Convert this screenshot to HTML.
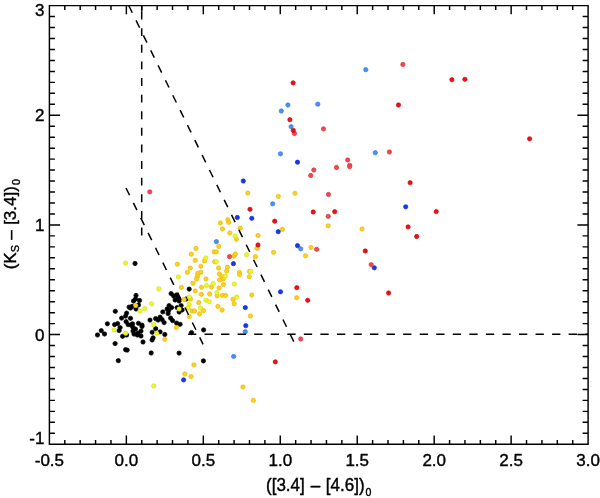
<!DOCTYPE html>
<html lang="en"><head><meta charset="utf-8"><title>Colour-colour diagram</title>
<style>html,body{margin:0;padding:0;background:#fff}body{width:600px;height:498px;overflow:hidden}svg{display:block}</style>
</head><body>
<svg width="600" height="498" viewBox="0 0 600 498">
<rect width="600" height="498" fill="#fff"/>
<g fill="#000" stroke="#000" stroke-width="0.7"><circle cx="135.0" cy="263.5" r="2.15"/><circle cx="189.2" cy="289.1" r="2.15"/><circle cx="171.1" cy="293.6" r="2.15"/><circle cx="173.6" cy="296.0" r="2.15"/><circle cx="176.6" cy="295.0" r="2.15"/><circle cx="178.1" cy="298.0" r="2.15"/><circle cx="175.1" cy="300.0" r="2.15"/><circle cx="179.1" cy="301.0" r="2.15"/><circle cx="186.2" cy="299.0" r="2.15"/><circle cx="136.0" cy="295.5" r="2.15"/><circle cx="135.5" cy="299.0" r="2.15"/><circle cx="139.5" cy="300.5" r="2.15"/><circle cx="133.5" cy="301.0" r="2.15"/><circle cx="132.0" cy="306.5" r="2.15"/><circle cx="138.5" cy="305.0" r="2.15"/><circle cx="136.0" cy="309.0" r="2.15"/><circle cx="130.5" cy="308.0" r="2.15"/><circle cx="129.1" cy="307.1" r="2.15"/><circle cx="169.1" cy="305.6" r="2.15"/><circle cx="171.6" cy="307.6" r="2.15"/><circle cx="167.1" cy="309.0" r="2.15"/><circle cx="168.6" cy="310.6" r="2.15"/><circle cx="168.1" cy="313.6" r="2.15"/><circle cx="162.8" cy="311.9" r="2.15"/><circle cx="177.1" cy="307.6" r="2.15"/><circle cx="181.1" cy="305.6" r="2.15"/><circle cx="182.1" cy="310.0" r="2.15"/><circle cx="179.1" cy="312.0" r="2.15"/><circle cx="150.0" cy="320.1" r="2.15"/><circle cx="155.6" cy="318.6" r="2.15"/><circle cx="160.1" cy="317.1" r="2.15"/><circle cx="158.1" cy="320.1" r="2.15"/><circle cx="162.1" cy="319.6" r="2.15"/><circle cx="164.1" cy="322.6" r="2.15"/><circle cx="170.6" cy="318.1" r="2.15"/><circle cx="172.6" cy="320.6" r="2.15"/><circle cx="176.6" cy="323.1" r="2.15"/><circle cx="180.1" cy="324.3" r="2.15"/><circle cx="155.7" cy="328.7" r="2.15"/><circle cx="152.2" cy="332.3" r="2.15"/><circle cx="160.1" cy="331.9" r="2.15"/><circle cx="164.8" cy="334.5" r="2.15"/><circle cx="130.5" cy="318.3" r="2.15"/><circle cx="132.5" cy="323.8" r="2.15"/><circle cx="131.0" cy="325.1" r="2.15"/><circle cx="138.5" cy="323.3" r="2.15"/><circle cx="142.0" cy="325.1" r="2.15"/><circle cx="135.5" cy="329.1" r="2.15"/><circle cx="133.0" cy="331.1" r="2.15"/><circle cx="141.0" cy="331.1" r="2.15"/><circle cx="138.0" cy="333.1" r="2.15"/><circle cx="134.0" cy="334.1" r="2.15"/><circle cx="115.3" cy="311.3" r="2.15"/><circle cx="126.6" cy="313.1" r="2.15"/><circle cx="125.6" cy="316.1" r="2.15"/><circle cx="121.6" cy="318.1" r="2.15"/><circle cx="126.1" cy="321.6" r="2.15"/><circle cx="128.1" cy="324.6" r="2.15"/><circle cx="107.4" cy="323.8" r="2.15"/><circle cx="114.6" cy="324.6" r="2.15"/><circle cx="117.6" cy="323.6" r="2.15"/><circle cx="120.1" cy="327.6" r="2.15"/><circle cx="119.1" cy="330.6" r="2.15"/><circle cx="101.3" cy="330.7" r="2.15"/><circle cx="104.5" cy="334.0" r="2.15"/><circle cx="97.5" cy="335.0" r="2.15"/><circle cx="122.6" cy="336.3" r="2.15"/><circle cx="126.6" cy="335.0" r="2.15"/><circle cx="115.1" cy="343.6" r="2.15"/><circle cx="125.6" cy="349.7" r="2.15"/><circle cx="127.2" cy="350.1" r="2.15"/><circle cx="118.3" cy="360.7" r="2.15"/><circle cx="137.3" cy="335.0" r="2.15"/><circle cx="141.0" cy="336.0" r="2.15"/><circle cx="142.0" cy="326.5" r="2.15"/><circle cx="133.0" cy="327.5" r="2.15"/><circle cx="153.1" cy="337.8" r="2.15"/><circle cx="152.1" cy="340.0" r="2.15"/><circle cx="143.0" cy="342.0" r="2.15"/><circle cx="151.2" cy="353.0" r="2.15"/><circle cx="179.1" cy="353.1" r="2.15"/><circle cx="203.6" cy="329.9" r="2.15"/><circle cx="191.5" cy="332.6" r="2.15"/><circle cx="203.4" cy="360.9" r="2.15"/></g>
<g fill="#fdd31a" stroke="#e6b814" stroke-width="0.7"><circle cx="177.3" cy="264.2" r="2.15"/><circle cx="190.3" cy="268.0" r="2.15"/><circle cx="187.4" cy="272.3" r="2.15"/><circle cx="181.4" cy="287.4" r="2.15"/><circle cx="184.2" cy="299.5" r="2.15"/><circle cx="135.7" cy="305.6" r="2.15"/><circle cx="189.2" cy="316.5" r="2.15"/><circle cx="176.3" cy="327.6" r="2.15"/><circle cx="164.8" cy="339.3" r="2.15"/><circle cx="184.8" cy="374.0" r="2.15"/><circle cx="193.9" cy="364.8" r="2.15"/><circle cx="191.1" cy="376.6" r="2.15"/><circle cx="242.9" cy="387.0" r="2.15"/><circle cx="253.3" cy="400.4" r="2.15"/><circle cx="191.3" cy="254.2" r="2.15"/><circle cx="196.0" cy="248.5" r="2.15"/><circle cx="214.1" cy="251.8" r="2.15"/><circle cx="216.3" cy="251.8" r="2.15"/><circle cx="204.5" cy="261.0" r="2.15"/><circle cx="195.2" cy="260.3" r="2.15"/><circle cx="214.6" cy="261.8" r="2.15"/><circle cx="200.8" cy="266.3" r="2.15"/><circle cx="218.6" cy="268.0" r="2.15"/><circle cx="227.4" cy="267.2" r="2.15"/><circle cx="226.6" cy="271.0" r="2.15"/><circle cx="239.3" cy="272.3" r="2.15"/><circle cx="239.6" cy="274.8" r="2.15"/><circle cx="249.5" cy="271.5" r="2.15"/><circle cx="249.4" cy="276.8" r="2.15"/><circle cx="200.8" cy="272.3" r="2.15"/><circle cx="197.8" cy="273.3" r="2.15"/><circle cx="197.5" cy="276.3" r="2.15"/><circle cx="196.5" cy="279.0" r="2.15"/><circle cx="193.0" cy="283.3" r="2.15"/><circle cx="206.0" cy="279.0" r="2.15"/><circle cx="219.4" cy="274.0" r="2.15"/><circle cx="222.1" cy="276.6" r="2.15"/><circle cx="223.1" cy="279.0" r="2.15"/><circle cx="219.6" cy="280.0" r="2.15"/><circle cx="223.4" cy="284.6" r="2.15"/><circle cx="211.4" cy="287.0" r="2.15"/><circle cx="201.5" cy="287.3" r="2.15"/><circle cx="219.1" cy="288.0" r="2.15"/><circle cx="195.2" cy="291.0" r="2.15"/><circle cx="201.3" cy="294.3" r="2.15"/><circle cx="209.6" cy="294.0" r="2.15"/><circle cx="217.1" cy="295.8" r="2.15"/><circle cx="222.3" cy="295.4" r="2.15"/><circle cx="225.6" cy="295.4" r="2.15"/><circle cx="233.0" cy="299.3" r="2.15"/><circle cx="190.5" cy="299.0" r="2.15"/><circle cx="198.7" cy="302.5" r="2.15"/><circle cx="217.9" cy="306.4" r="2.15"/><circle cx="222.1" cy="310.0" r="2.15"/><circle cx="203.5" cy="310.6" r="2.15"/><circle cx="192.0" cy="311.0" r="2.15"/><circle cx="194.5" cy="311.0" r="2.15"/><circle cx="199.5" cy="313.9" r="2.15"/><circle cx="234.2" cy="303.8" r="2.15"/><circle cx="251.8" cy="295.0" r="2.15"/><circle cx="250.4" cy="316.0" r="2.15"/><circle cx="296.6" cy="297.7" r="2.15"/><circle cx="220.3" cy="223.0" r="2.15"/><circle cx="227.8" cy="219.7" r="2.15"/><circle cx="228.7" cy="222.3" r="2.15"/><circle cx="222.5" cy="229.0" r="2.15"/><circle cx="240.3" cy="228.2" r="2.15"/><circle cx="229.8" cy="232.9" r="2.15"/><circle cx="236.3" cy="239.2" r="2.15"/><circle cx="258.0" cy="235.5" r="2.15"/><circle cx="282.4" cy="229.4" r="2.15"/><circle cx="247.8" cy="193.0" r="2.15"/><circle cx="278.3" cy="196.5" r="2.15"/><circle cx="294.9" cy="193.3" r="2.15"/><circle cx="218.8" cy="246.5" r="2.15"/><circle cx="257.0" cy="248.3" r="2.15"/><circle cx="273.6" cy="252.3" r="2.15"/><circle cx="255.3" cy="256.7" r="2.15"/><circle cx="234.0" cy="256.0" r="2.15"/><circle cx="235.3" cy="254.0" r="2.15"/><circle cx="328.2" cy="225.8" r="2.15"/><circle cx="362.0" cy="229.0" r="2.15"/><circle cx="311.0" cy="247.5" r="2.15"/><circle cx="305.5" cy="255.8" r="2.15"/></g>
<g fill="#f0f822" stroke="#d2de1c" stroke-width="0.7"><circle cx="125.6" cy="263.1" r="2.15"/><circle cx="178.4" cy="276.9" r="2.15"/><circle cx="158.8" cy="288.8" r="2.15"/><circle cx="189.2" cy="297.0" r="2.15"/><circle cx="189.2" cy="304.5" r="2.15"/><circle cx="188.2" cy="308.0" r="2.15"/><circle cx="140.0" cy="311.0" r="2.15"/><circle cx="144.7" cy="308.6" r="2.15"/><circle cx="151.6" cy="303.8" r="2.15"/><circle cx="179.1" cy="309.0" r="2.15"/><circle cx="153.6" cy="324.6" r="2.15"/><circle cx="156.7" cy="333.3" r="2.15"/><circle cx="114.1" cy="330.0" r="2.15"/><circle cx="125.7" cy="333.3" r="2.15"/><circle cx="153.7" cy="385.9" r="2.15"/><circle cx="205.7" cy="258.0" r="2.15"/><circle cx="216.3" cy="261.8" r="2.15"/><circle cx="225.3" cy="276.0" r="2.15"/><circle cx="234.4" cy="284.0" r="2.15"/><circle cx="213.3" cy="283.6" r="2.15"/><circle cx="206.5" cy="285.6" r="2.15"/><circle cx="216.9" cy="292.6" r="2.15"/><circle cx="236.6" cy="297.0" r="2.15"/><circle cx="206.0" cy="300.2" r="2.15"/><circle cx="209.1" cy="301.5" r="2.15"/><circle cx="200.5" cy="308.0" r="2.15"/><circle cx="246.5" cy="254.7" r="2.15"/><circle cx="250.8" cy="271.4" r="2.15"/><circle cx="235.0" cy="236.0" r="2.15"/></g>
<g fill="#1538f0" stroke="#0c2ac8" stroke-width="0.7"><circle cx="297.5" cy="162.2" r="2.15"/><circle cx="243.3" cy="181.0" r="2.15"/><circle cx="237.3" cy="217.5" r="2.15"/><circle cx="251.8" cy="218.3" r="2.15"/><circle cx="278.2" cy="231.7" r="2.15"/><circle cx="297.5" cy="245.7" r="2.15"/><circle cx="233.4" cy="263.7" r="2.15"/><circle cx="280.5" cy="291.8" r="2.15"/><circle cx="245.3" cy="307.6" r="2.15"/><circle cx="245.8" cy="325.7" r="2.15"/><circle cx="374.3" cy="267.8" r="2.15"/><circle cx="405.7" cy="206.8" r="2.15"/><circle cx="183.6" cy="379.9" r="2.15"/></g>
<g fill="#4a8ef8" stroke="#3878e0" stroke-width="0.7"><circle cx="365.8" cy="69.7" r="2.15"/><circle cx="287.9" cy="105.0" r="2.15"/><circle cx="317.8" cy="104.2" r="2.15"/><circle cx="281.3" cy="111.0" r="2.15"/><circle cx="291.1" cy="126.7" r="2.15"/><circle cx="280.5" cy="153.8" r="2.15"/><circle cx="375.3" cy="152.7" r="2.15"/><circle cx="272.7" cy="203.8" r="2.15"/><circle cx="216.4" cy="241.6" r="2.15"/><circle cx="300.7" cy="248.8" r="2.15"/><circle cx="245.3" cy="331.7" r="2.15"/><circle cx="233.6" cy="356.4" r="2.15"/></g>
<g fill="#f04a50" stroke="#d8343a" stroke-width="0.7"><circle cx="294.5" cy="133.5" r="2.15"/><circle cx="323.5" cy="128.9" r="2.15"/><circle cx="402.9" cy="64.5" r="2.15"/><circle cx="389.4" cy="152.0" r="2.15"/><circle cx="347.7" cy="160.0" r="2.15"/><circle cx="349.7" cy="165.3" r="2.15"/><circle cx="349.7" cy="166.7" r="2.15"/><circle cx="336.5" cy="167.5" r="2.15"/><circle cx="313.8" cy="170.0" r="2.15"/><circle cx="310.7" cy="175.5" r="2.15"/><circle cx="328.5" cy="194.5" r="2.15"/><circle cx="328.2" cy="216.3" r="2.15"/><circle cx="316.7" cy="249.3" r="2.15"/><circle cx="371.2" cy="264.7" r="2.15"/><circle cx="300.7" cy="339.0" r="2.15"/><circle cx="149.8" cy="191.9" r="2.15"/><circle cx="229.5" cy="256.7" r="2.15"/></g>
<g fill="#ee1014" stroke="#c4080e" stroke-width="0.7"><circle cx="293.1" cy="82.9" r="2.15"/><circle cx="289.9" cy="119.7" r="2.15"/><circle cx="293.3" cy="130.5" r="2.15"/><circle cx="451.9" cy="79.7" r="2.15"/><circle cx="464.9" cy="79.3" r="2.15"/><circle cx="398.5" cy="105.0" r="2.15"/><circle cx="529.6" cy="138.8" r="2.15"/><circle cx="410.1" cy="182.7" r="2.15"/><circle cx="436.2" cy="211.6" r="2.15"/><circle cx="408.1" cy="226.9" r="2.15"/><circle cx="416.7" cy="236.5" r="2.15"/><circle cx="313.2" cy="212.0" r="2.15"/><circle cx="334.7" cy="211.7" r="2.15"/><circle cx="365.3" cy="251.0" r="2.15"/><circle cx="296.8" cy="287.7" r="2.15"/><circle cx="307.7" cy="300.3" r="2.15"/><circle cx="388.6" cy="293.0" r="2.15"/><circle cx="250.0" cy="209.3" r="2.15"/><circle cx="274.7" cy="221.2" r="2.15"/><circle cx="258.0" cy="245.0" r="2.15"/><circle cx="275.3" cy="361.9" r="2.15"/></g>
<g stroke="#000" stroke-width="1.5" fill="none">
<path d="M141.7 5.5V11.6"/><path d="M141.7 11.6V235.9" stroke-dasharray="7.9 8.71"/>
<path d="M128.7 5.5L293.8 341.6" stroke-dasharray="8.1 8.56"/>
<path d="M126 188L203.1 344.3" stroke-dasharray="8.1 8.56"/>
<path d="M188 334.3H588" stroke-dasharray="8.3 8.25"/>
</g>
<path d="M49.40 5.60H588.10V444.25H49.40ZM49.40 5.60v8.70M49.40 444.25v-8.70M64.79 5.60v4.30M64.79 444.25v-4.30M80.18 5.60v4.30M80.18 444.25v-4.30M95.57 5.60v4.30M95.57 444.25v-4.30M110.97 5.60v4.30M110.97 444.25v-4.30M126.36 5.60v8.70M126.36 444.25v-8.70M141.75 5.60v4.30M141.75 444.25v-4.30M157.14 5.60v4.30M157.14 444.25v-4.30M172.53 5.60v4.30M172.53 444.25v-4.30M187.92 5.60v4.30M187.92 444.25v-4.30M203.31 5.60v8.70M203.31 444.25v-8.70M218.71 5.60v4.30M218.71 444.25v-4.30M234.10 5.60v4.30M234.10 444.25v-4.30M249.49 5.60v4.30M249.49 444.25v-4.30M264.88 5.60v4.30M264.88 444.25v-4.30M280.27 5.60v8.70M280.27 444.25v-8.70M295.66 5.60v4.30M295.66 444.25v-4.30M311.05 5.60v4.30M311.05 444.25v-4.30M326.45 5.60v4.30M326.45 444.25v-4.30M341.84 5.60v4.30M341.84 444.25v-4.30M357.23 5.60v8.70M357.23 444.25v-8.70M372.62 5.60v4.30M372.62 444.25v-4.30M388.01 5.60v4.30M388.01 444.25v-4.30M403.40 5.60v4.30M403.40 444.25v-4.30M418.79 5.60v4.30M418.79 444.25v-4.30M434.19 5.60v8.70M434.19 444.25v-8.70M449.58 5.60v4.30M449.58 444.25v-4.30M464.97 5.60v4.30M464.97 444.25v-4.30M480.36 5.60v4.30M480.36 444.25v-4.30M495.75 5.60v4.30M495.75 444.25v-4.30M511.14 5.60v8.70M511.14 444.25v-8.70M526.53 5.60v4.30M526.53 444.25v-4.30M541.93 5.60v4.30M541.93 444.25v-4.30M557.32 5.60v4.30M557.32 444.25v-4.30M572.71 5.60v4.30M572.71 444.25v-4.30M588.10 5.60v8.70M588.10 444.25v-8.70M49.40 444.25h10.70M588.10 444.25h-10.70M49.40 433.28h5.50M588.10 433.28h-5.50M49.40 422.32h5.50M588.10 422.32h-5.50M49.40 411.35h5.50M588.10 411.35h-5.50M49.40 400.38h5.50M588.10 400.38h-5.50M49.40 389.42h5.50M588.10 389.42h-5.50M49.40 378.45h5.50M588.10 378.45h-5.50M49.40 367.49h5.50M588.10 367.49h-5.50M49.40 356.52h5.50M588.10 356.52h-5.50M49.40 345.55h5.50M588.10 345.55h-5.50M49.40 334.59h10.70M588.10 334.59h-10.70M49.40 323.62h5.50M588.10 323.62h-5.50M49.40 312.65h5.50M588.10 312.65h-5.50M49.40 301.69h5.50M588.10 301.69h-5.50M49.40 290.72h5.50M588.10 290.72h-5.50M49.40 279.76h5.50M588.10 279.76h-5.50M49.40 268.79h5.50M588.10 268.79h-5.50M49.40 257.82h5.50M588.10 257.82h-5.50M49.40 246.86h5.50M588.10 246.86h-5.50M49.40 235.89h5.50M588.10 235.89h-5.50M49.40 224.93h10.70M588.10 224.93h-10.70M49.40 213.96h5.50M588.10 213.96h-5.50M49.40 202.99h5.50M588.10 202.99h-5.50M49.40 192.03h5.50M588.10 192.03h-5.50M49.40 181.06h5.50M588.10 181.06h-5.50M49.40 170.09h5.50M588.10 170.09h-5.50M49.40 159.13h5.50M588.10 159.13h-5.50M49.40 148.16h5.50M588.10 148.16h-5.50M49.40 137.19h5.50M588.10 137.19h-5.50M49.40 126.23h5.50M588.10 126.23h-5.50M49.40 115.26h10.70M588.10 115.26h-10.70M49.40 104.30h5.50M588.10 104.30h-5.50M49.40 93.33h5.50M588.10 93.33h-5.50M49.40 82.36h5.50M588.10 82.36h-5.50M49.40 71.40h5.50M588.10 71.40h-5.50M49.40 60.43h5.50M588.10 60.43h-5.50M49.40 49.47h5.50M588.10 49.47h-5.50M49.40 38.50h5.50M588.10 38.50h-5.50M49.40 27.53h5.50M588.10 27.53h-5.50M49.40 16.57h5.50M588.10 16.57h-5.50M49.40 5.60h10.70M588.10 5.60h-10.70" stroke="#000" stroke-width="1.45" fill="none" stroke-linecap="butt" stroke-linejoin="miter"/>
<g font-family="'Liberation Sans', sans-serif" font-size="17" fill="#000" stroke="#000" stroke-width="0.4" stroke-linejoin="round">
<text x="49.4" y="466.3" text-anchor="middle">-0.5</text><text x="126.4" y="466.3" text-anchor="middle">0.0</text><text x="203.3" y="466.3" text-anchor="middle">0.5</text><text x="280.3" y="466.3" text-anchor="middle">1.0</text><text x="357.2" y="466.3" text-anchor="middle">1.5</text><text x="434.2" y="466.3" text-anchor="middle">2.0</text><text x="511.1" y="466.3" text-anchor="middle">2.5</text><text x="588.1" y="466.3" text-anchor="middle">3.0</text>
<text x="44.4" y="16.0" text-anchor="end">3</text><text x="44.4" y="121.4" text-anchor="end">2</text><text x="44.4" y="231.0" text-anchor="end">1</text><text x="44.4" y="340.7" text-anchor="end">0</text><text x="44.4" y="444.2" text-anchor="end">-1</text>
<text transform="translate(266 491.4) scale(1 1.08)">([3.4]<tspan dx="1.4"> –</tspan><tspan dx="0.8"> [4.6])</tspan><tspan font-size="10.6" dy="4.2" dx="1">0</tspan></text>
<text transform="translate(15.5 269.3) rotate(-90)">(K<tspan font-size="11" dy="3.4">S</tspan><tspan dy="-3.4" dx="0.6"> –</tspan><tspan dx="0.6"> [3.4])</tspan><tspan font-size="10.6" dy="4.2" dx="1">0</tspan></text>
</g>
</svg>
</body></html>
